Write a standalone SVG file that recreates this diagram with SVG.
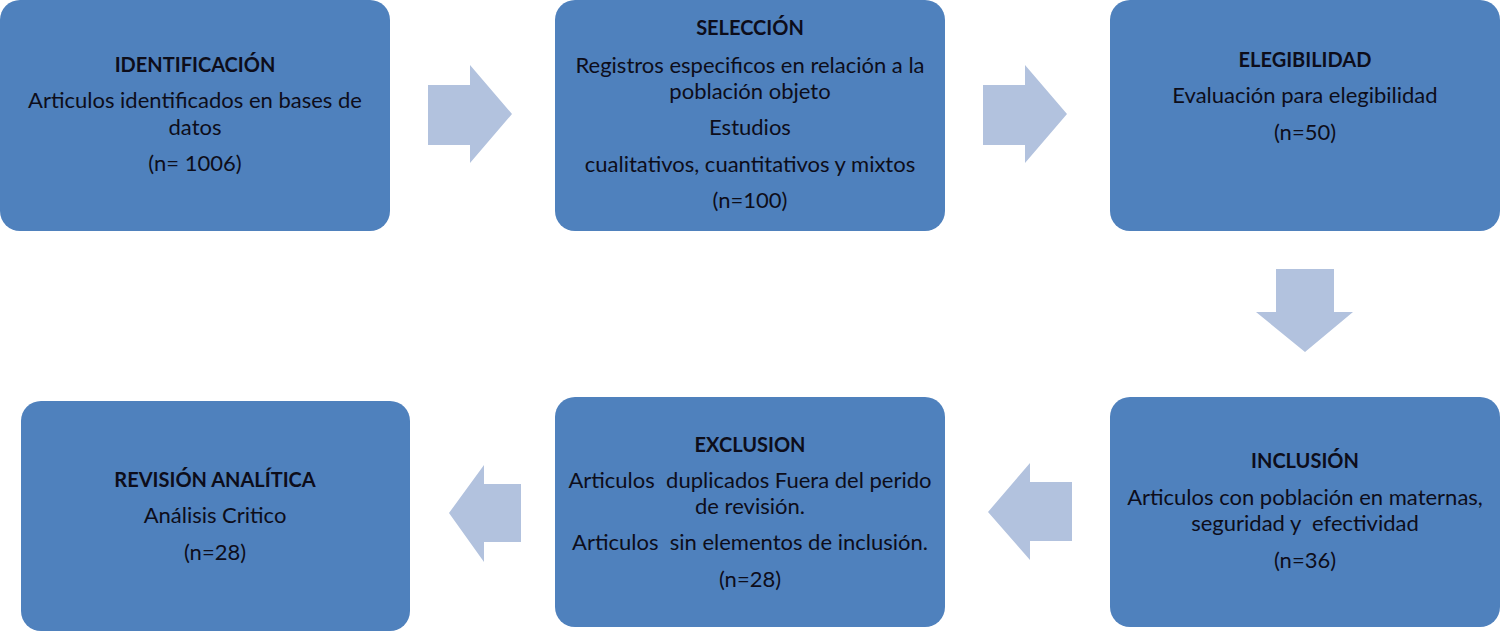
<svg xmlns="http://www.w3.org/2000/svg" width="1500" height="632" viewBox="0 0 1500 632">
<style>
.box{fill:#4F81BD;}
.arr{fill:#B2C2DE;}
text{font-family:Lato,"Open Sans","Liberation Sans",sans-serif;font-size:22px;fill:#0d0d1a;text-anchor:middle;}
.t{font-weight:bold;font-size:20px;}
</style>
<rect width="1500" height="632" fill="#ffffff"/>
<g id="connectors">
<polygon class="arr" points="428,85 470,85 470,65 512,114 470,163 470,145 428,145"/>
<polygon class="arr" points="983,85 1025,85 1025,65 1067,114 1025,163 1025,145 983,145"/>
<polygon class="arr" points="1276,269 1334,269 1334,312 1353,312 1305,352 1256,312 1276,312"/>
<polygon class="arr" points="1072,482 1030,482 1030,463 988,512 1030,560 1030,541 1072,541"/>
<polygon class="arr" points="521,484 484,484 484,465 449,513 484,562 484,542 521,542"/>
</g>
<g id="identificacion">
<rect class="box" x="0" y="0" width="390" height="231" rx="20"/>
<text class="t" x="195" y="72">IDENTIFICACIÓN</text>
<text x="195" y="108">Articulos identificados en bases de</text>
<text x="195" y="135">datos</text>
<text x="195" y="171">(n= 1006)</text>
</g>
<g id="seleccion">
<rect class="box" x="555" y="0" width="390" height="231" rx="20"/>
<text class="t" x="750" y="35">SELECCIÓN</text>
<text x="750" y="73">Registros especificos en relación a la</text>
<text x="750" y="99">población objeto</text>
<text x="750" y="135">Estudios</text>
<text x="750" y="172">cualitativos, cuantitativos y mixtos</text>
<text x="750" y="208">(n=100)</text>
</g>
<g id="elegibilidad">
<rect class="box" x="1110" y="0" width="390" height="231" rx="20"/>
<text class="t" x="1305" y="67">ELEGIBILIDAD</text>
<text x="1305" y="103">Evaluación para elegibilidad</text>
<text x="1305" y="140">(n=50)</text>
</g>
<g id="inclusion">
<rect class="box" x="1110" y="397" width="390" height="230" rx="20"/>
<text class="t" x="1305" y="468">INCLUSIÓN</text>
<text x="1305" y="505">Articulos con población en maternas,</text>
<text x="1305" y="531" xml:space="preserve">seguridad y  efectividad</text>
<text x="1305" y="568">(n=36)</text>
</g>
<g id="exclusion">
<rect class="box" x="555" y="397" width="390" height="230" rx="20"/>
<text class="t" x="750" y="452">EXCLUSION</text>
<text x="750" y="488" xml:space="preserve">Articulos  duplicados Fuera del perido</text>
<text x="750" y="514">de revisión.</text>
<text x="750" y="550" xml:space="preserve">Articulos  sin elementos de inclusión.</text>
<text x="750" y="587">(n=28)</text>
</g>
<g id="revision">
<rect class="box" x="21" y="401" width="389" height="230" rx="20"/>
<text class="t" x="215" y="487">REVISIÓN ANALÍTICA</text>
<text x="215" y="523">Análisis Critico</text>
<text x="215" y="560">(n=28)</text>
</g>
</svg>
